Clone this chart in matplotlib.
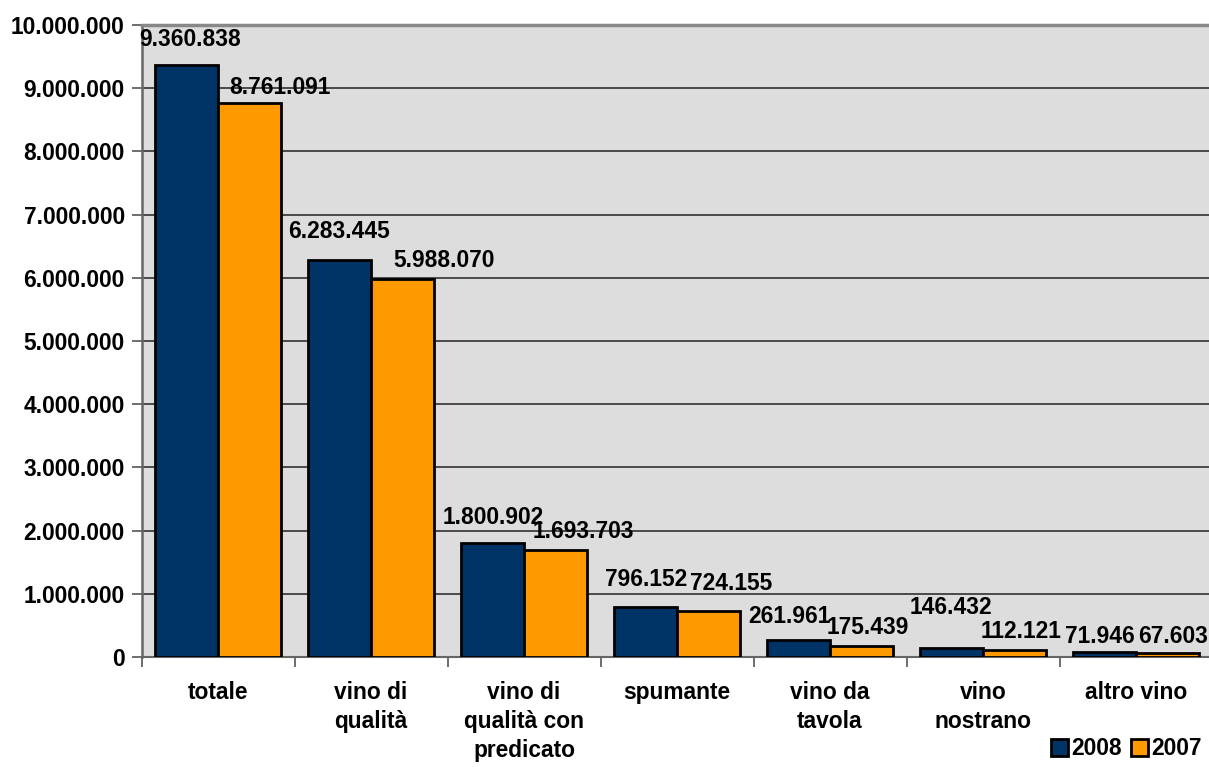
import matplotlib
matplotlib.use("Agg")
import matplotlib.pyplot as plt
from matplotlib.ticker import FuncFormatter
from matplotlib.patches import Patch
import numpy as np

plt.rcParams["font.family"] = ["Liberation Sans", "DejaVu Sans"]
plt.rcParams["font.weight"] = "bold"

categories = ["totale", "vino di\nqualità", "vino di\nqualità con\npredicato", "spumante",
              "vino da\ntavola", "vino\nnostrano", "altro vino"]
v2008 = [9360838, 6283445, 1800902, 796152, 261961, 146432, 71946]
v2007 = [8761091, 5988070, 1693703, 724155, 175439, 112121, 67603]
years = ["2008", "2007"]

# label offsets (pixels) from bar top-centre, mimicking the original placement
off2008 = [(4, 19), (0, 22), (1, 19), (1, 21), (-9, 17), (0, 34), (-4, 9)]
off2007 = [(30, 9), (41, 12), (28, 12), (22, 21), (6, 12), (6, 12), (5, 10)]

NAVY, ORANGE, BG = "#003366", "#FF9900", "#DDDDDD"
FS = 16.4


def dots(v, _=None):
    return f"{int(v):,}".replace(",", ".")


fig = plt.figure(figsize=(12.09, 7.67), dpi=100)
ax = fig.add_axes([141.5 / 1209, 110 / 767, 1071 / 1209, 632 / 767])
ax.set_facecolor(BG)

x = np.arange(len(categories))
w = 0.415
b1 = ax.bar(x - w / 2, v2008, w, color=NAVY, edgecolor="black", lw=2.0, zorder=3)
b2 = ax.bar(x + w / 2, v2007, w, color=ORANGE, edgecolor="black", lw=2.0, zorder=3)

for bars, vals, offs in [(b1, v2008, off2008), (b2, v2007, off2007)]:
    for r, v, (dx, dy) in zip(bars, vals, offs):
        ax.annotate(dots(v), (r.get_x() + r.get_width() / 2, v), xytext=(dx, dy),
                    textcoords="offset pixels", ha="center", va="baseline",
                    fontsize=FS, fontweight="bold", zorder=5, annotation_clip=False)

ax.set_xlim(-0.5, len(categories) - 0.5)
ax.set_ylim(0, 10000000)
ax.set_yticks(np.arange(0, 10000001, 1000000))
ax.yaxis.set_major_formatter(FuncFormatter(dots))
ax.grid(axis="y", color="#222222", lw=1.1, zorder=1)
ax.set_axisbelow(True)

ax.set_xticks(x)
ax.set_xticklabels(categories, fontsize=FS, fontweight="bold", linespacing=1.35, va="top")
ax.tick_params(axis="x", which="major", length=0, pad=17)
ax.set_xticks(np.arange(-0.5, len(categories), 1.0), minor=True)
ax.tick_params(axis="x", which="minor", length=7, width=1.2, color="#555555")
ax.tick_params(axis="y", length=7, width=1.2, color="#555555", pad=5, labelsize=FS)
for lab in ax.get_yticklabels():
    lab.set_fontweight("bold")

ax.spines["right"].set_visible(False)
ax.spines["top"].set_color("#888888")
ax.spines["top"].set_linewidth(2.5)
ax.spines["left"].set_color("#666666")
ax.spines["left"].set_linewidth(1.8)
ax.spines["bottom"].set_color("#666666")
ax.spines["bottom"].set_linewidth(1.5)

handles = [Patch(facecolor=NAVY, edgecolor="black", lw=2.0),
           Patch(facecolor=ORANGE, edgecolor="black", lw=2.0)]
fig.legend(handles, years, loc="lower right", bbox_to_anchor=(1.0, 0.0), ncol=2, frameon=False,
           prop={"size": FS, "weight": "bold"}, handlelength=0.75, handleheight=0.75,
           handletextpad=0.15, columnspacing=0.4, borderaxespad=0.1, borderpad=0.2)

fig.savefig("out.png", dpi=100)
